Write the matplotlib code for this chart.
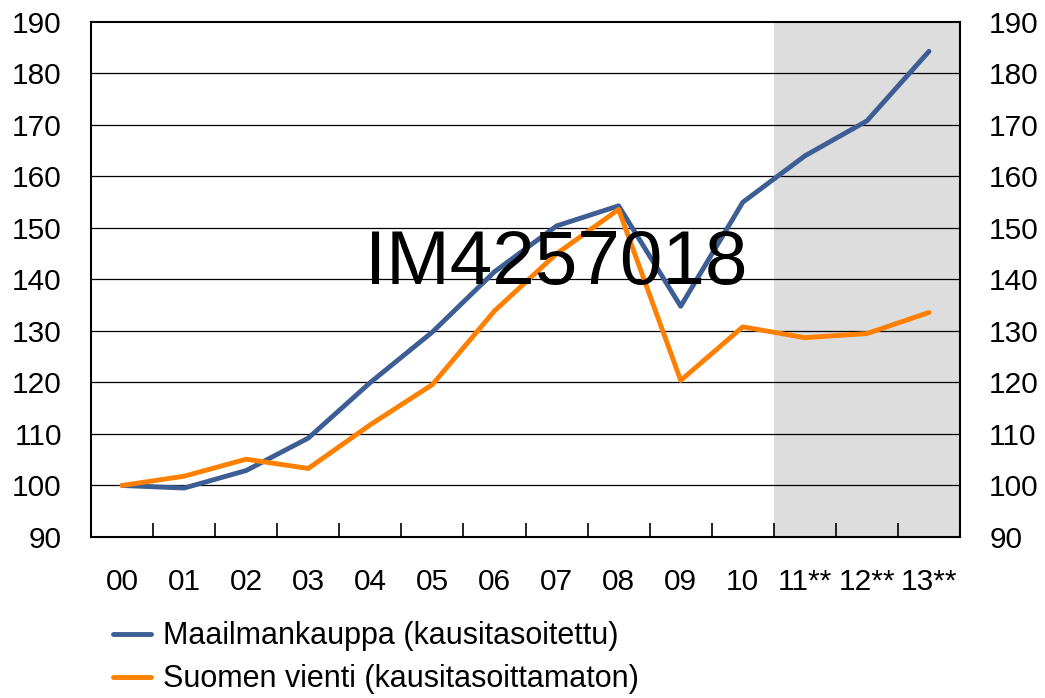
import matplotlib
matplotlib.use("Agg")
import matplotlib.pyplot as plt
import numpy as np
from matplotlib.lines import Line2D

plt.rcParams['font.family'] = ['Liberation Sans', 'DejaVu Sans']

years = ["00", "01", "02", "03", "04", "05", "06", "07", "08", "09", "10", "11**", "12**", "13**"]
maailma = [100, 99.5, 102.9, 109.2, 120.0, 129.8, 141.5, 150.4, 154.3, 134.8, 155.0, 164.0, 170.8, 184.3]
suomi = [100, 101.8, 105.1, 103.3, 111.8, 119.6, 133.9, 145.0, 153.6, 120.4, 130.8, 128.7, 129.5, 133.6]
forecast_start = 11  # 11** onwards shaded

blue = "#3c5e94"
orange = "#ff8000"

fig = plt.figure(figsize=(10.45, 6.98), dpi=100)
ax = fig.add_axes([0.0871, 0.2307, 0.8316, 0.7378])

x = np.arange(len(years))
ax.axvspan(forecast_start - 0.5, len(years) - 0.5, color="#dddddd", zorder=0, lw=0)
for v in range(100, 190, 10):
    ax.axhline(v, color="black", lw=0.9, zorder=1)
ax.plot(x, maailma, color=blue, lw=3.5, zorder=3, solid_capstyle="round")
ax.plot(x, suomi, color=orange, lw=3.5, zorder=3, solid_capstyle="round")

ax.set_xlim(-0.5, len(years) - 0.5)
ax.set_ylim(90, 190)
ax.set_yticks(range(90, 200, 10))
ax.tick_params(axis="y", length=0, labelsize=21.5, pad=21, labelright=True, right=False)
ax.set_xticks(x)
ax.set_xticklabels(years)
ax.tick_params(axis="x", which="major", length=0, labelsize=21.5, pad=22)
ax.set_xticks(np.arange(0.5, len(years) - 1, 1), minor=True)
ax.tick_params(axis="x", which="minor", direction="in", length=10, width=1.2)
for s in ax.spines.values():
    s.set_linewidth(1.5)

ax.text(0.535, 0.53, "IM4257018", transform=ax.transAxes, fontsize=55,
        ha="center", va="center", zorder=4)

handles = [Line2D([], [], color=blue, lw=3.5, solid_capstyle="round"),
           Line2D([], [], color=orange, lw=3.5, solid_capstyle="round")]
fig.legend(handles, ["Maailmankauppa (kausitasoitettu)", "Suomen vienti (kausitasoittamaton)"],
           loc="lower left", bbox_to_anchor=(0.082, -0.034), frameon=False, fontsize=22,
           handlelength=1.25, handletextpad=0.38, labelspacing=0.42)

fig.savefig("out.png", dpi=100)
